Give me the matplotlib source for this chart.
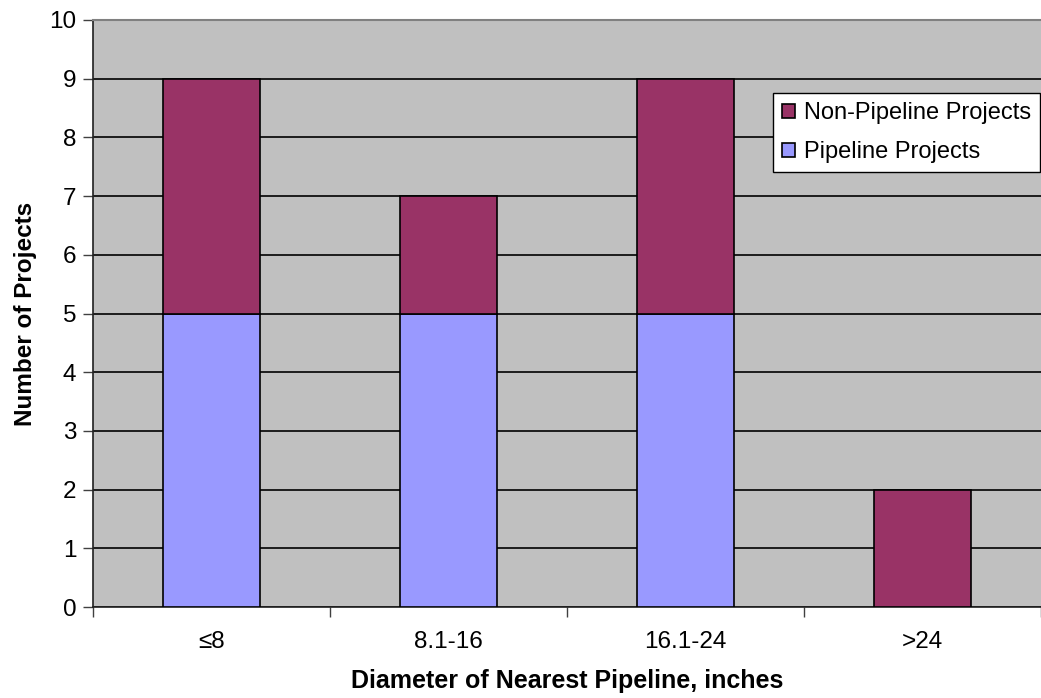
import matplotlib
matplotlib.use('Agg')
import matplotlib.pyplot as plt
import numpy as np

categories = ['≤8', '8.1-16', '16.1-24', '>24']
pipeline = [5, 5, 5, 0]
non_pipeline = [4, 2, 4, 2]

plt.rcParams['font.family'] = ['Liberation Sans', 'DejaVu Sans']

fig = plt.figure(figsize=(10.41, 6.98), dpi=100)
ax = fig.add_axes([93 / 1041, 1 - 607 / 698, (1041 - 93) / 1041, (607 - 20) / 698])
ax.set_facecolor('#C0C0C0')

x = np.arange(len(categories))
w = 0.41
ax.bar(x, pipeline, w, color='#9999FF', edgecolor='black', linewidth=1.2,
       label='Pipeline Projects', zorder=3)
ax.bar(x, non_pipeline, w, bottom=pipeline, color='#993366', edgecolor='black',
       linewidth=1.2, label='Non-Pipeline Projects', zorder=3)

ax.set_xlim(-0.5, len(categories) - 0.5)
ax.set_ylim(0, 10)
ax.set_yticks(range(0, 11))
ax.yaxis.grid(True, color='black', linewidth=1.2, zorder=1)
ax.set_axisbelow(True)

ax.set_xticks(x)
ax.set_xticklabels(categories)
ax.set_xticks(np.arange(-0.5, len(categories)), minor=True)
ax.tick_params(axis='x', which='major', length=0, pad=17, labelsize=17.5)
ax.tick_params(axis='x', which='minor', length=7, width=1, direction='out', color='#404040')
ax.tick_params(axis='y', length=7, width=1, direction='out', color='#404040', labelsize=17.5, pad=5)

ax.spines['top'].set_color('#808080')
ax.spines['top'].set_linewidth(1.5)
ax.spines['right'].set_visible(False)
ax.spines['left'].set_color('#202020')
ax.spines['left'].set_linewidth(1.2)
ax.spines['bottom'].set_color('#202020')
ax.spines['bottom'].set_linewidth(1.2)

ax.set_xlabel('Diameter of Nearest Pipeline, inches', fontsize=18, fontweight='bold', labelpad=12)
ax.set_ylabel('Number of Projects', fontsize=17.5, fontweight='bold', labelpad=9)

handles, labels = ax.get_legend_handles_labels()
leg = ax.legend(handles[::-1], labels[::-1], loc='upper left',
                bbox_to_anchor=(773 / 1041, 1 - 93 / 698), bbox_transform=fig.transFigure,
                fontsize=17, frameon=True, fancybox=False, framealpha=1,
                edgecolor='black', handlelength=0.55, handleheight=0.55,
                handletextpad=0.35, borderpad=0.4, labelspacing=0.7, borderaxespad=0)
leg.get_frame().set_linewidth(1.0)

fig.savefig('out.png', dpi=100)
